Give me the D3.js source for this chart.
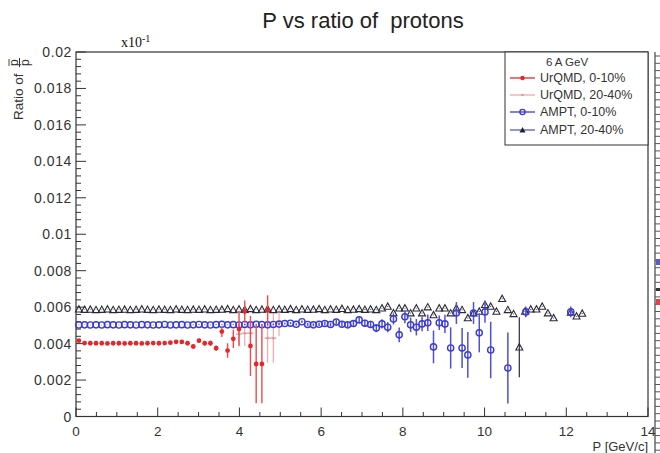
<!DOCTYPE html>
<html><head><meta charset="utf-8">
<script src="https://cdn.jsdelivr.net/npm/d3@7"></script>
<style>body{margin:0;background:#fff}svg{display:block}</style>
</head><body>
<script>
// ---------- DATA ----------
const title = "P vs ratio of  protons";
const xLabel = "P [GeV/c]";
const xTicks = [0,2,4,6,8,10,12,14];
const yTicks = [0,0.002,0.004,0.006,0.008,0.01,0.012,0.014,0.016,0.018,0.02];
const legendTitle = "6 A GeV";
const seriesNames = ["UrQMD, 0-10%","UrQMD, 20-40%","AMPT, 0-10%","AMPT, 20-40%"];

// UrQMD 0-10%
const urqmd010P   = [0.07,0.21,0.35,0.49,0.63,0.77,0.91,1.05,1.19,1.33,1.47,1.61,1.75,1.89,2.03,2.17,2.31,2.45,2.59,2.73,2.87,3.01,3.15,3.29,3.43,3.57,3.71,3.85,3.99,4.13,4.27,4.41,4.55,4.69];
const urqmd010V   = [0.00416,0.00403,0.00402,0.00402,0.00402,0.00401,0.00402,0.00402,0.00401,0.00402,0.00402,0.00401,0.00402,0.00403,0.00402,0.00403,0.00405,0.00410,0.00409,0.00402,0.00384,0.00416,0.00402,0.00402,0.00375,0.00466,0.00362,0.00426,0.00480,0.00576,0.00387,0.00288,0.00288,0.00585];
const urqmd010E   = [0.00003,0.00002,0.00002,0.00002,0.00002,0.00002,0.00002,0.00002,0.00002,0.00002,0.00002,0.00003,0.00003,0.00003,0.00003,0.00004,0.00004,0.00005,0.00006,0.00007,0.00008,0.00010,0.00012,0.00014,0.00015,0.00030,0.00040,0.00050,0.00095,0.00060,0.00165,0.00215,0.00215,0.00080];

// UrQMD 20-40%
const urqmd2040P  = [3.99,4.13,4.27,4.69,4.83,4.97];
const urqmd2040V  = [0.00452,0.00457,0.00457,0.00430,0.00430,0.00512];
const urqmd2040E  = [0.00060,0.00070,0.00070,0.00135,0.00135,0.00070];

// AMPT 0-10%
const ampt010P = [0.07,0.21,0.35,0.49,0.63,0.77,0.91,1.05,1.19,1.33,1.47,1.61,1.75,1.89,2.03,2.17,2.31,2.45,2.59,2.73,2.87,3.01,3.15,3.29,3.43,3.57,3.71,3.85,3.99,4.13,4.27,4.41,4.55,4.69,4.83,4.97,5.11,5.25,5.39,5.53,5.67,5.81,5.95,6.09,6.23,6.37,6.51,6.65,6.79,6.93,7.07,7.21,7.35,7.49,7.63,7.77,7.91,8.05,8.19,8.33,8.47,8.61,8.75,8.89,9.03,9.17,9.31,9.45,9.59,9.73,9.87,10.01,10.15,10.57,11.01,12.11];
const ampt010V = [0.00502,0.00503,0.00502,0.00503,0.00502,0.00504,0.00503,0.00502,0.00504,0.00503,0.00502,0.00504,0.00503,0.00502,0.00503,0.00505,0.00502,0.00503,0.00504,0.00502,0.00503,0.00505,0.00503,0.00502,0.00504,0.00506,0.00503,0.00504,0.00502,0.00505,0.00503,0.00506,0.00504,0.00503,0.00505,0.00507,0.00510,0.00512,0.00506,0.00520,0.00505,0.00503,0.00506,0.00510,0.00505,0.00518,0.00506,0.00503,0.00510,0.00530,0.00512,0.00505,0.00485,0.00508,0.00490,0.00535,0.00448,0.00547,0.00503,0.00490,0.00508,0.00514,0.00382,0.00514,0.00508,0.00376,0.00568,0.00376,0.00338,0.00568,0.00459,0.00574,0.00365,0.00266,0.00574,0.00574];
const ampt010E = [0.00001,0.00001,0.00001,0.00001,0.00001,0.00001,0.00001,0.00001,0.00001,0.00001,0.00001,0.00001,0.00001,0.00001,0.00001,0.00001,0.00001,0.00001,0.00001,0.00001,0.00002,0.00002,0.00002,0.00002,0.00002,0.00002,0.00002,0.00002,0.00003,0.00003,0.00003,0.00003,0.00004,0.00004,0.00004,0.00005,0.00005,0.00006,0.00006,0.00007,0.00008,0.00008,0.00009,0.00010,0.00011,0.00012,0.00013,0.00014,0.00015,0.00017,0.00019,0.00020,0.00022,0.00025,0.00028,0.00030,0.00040,0.00035,0.00040,0.00045,0.00040,0.00045,0.00090,0.00040,0.00050,0.00113,0.00060,0.00110,0.00125,0.00060,0.00107,0.00060,0.00155,0.00195,0.00030,0.00030];

// AMPT 20-40%
const ampt2040P = [0.07,0.21,0.35,0.49,0.63,0.77,0.91,1.05,1.19,1.33,1.47,1.61,1.75,1.89,2.03,2.17,2.31,2.45,2.59,2.73,2.87,3.01,3.15,3.29,3.43,3.57,3.71,3.85,3.99,4.13,4.27,4.41,4.55,4.69,4.83,4.97,5.11,5.25,5.39,5.53,5.67,5.81,5.95,6.09,6.23,6.37,6.51,6.65,6.79,6.93,7.07,7.21,7.35,7.49,7.63,7.77,7.91,8.05,8.19,8.33,8.47,8.61,8.75,8.89,9.03,9.17,9.31,9.45,9.59,9.73,9.87,10.01,10.15,10.29,10.43,10.57,10.71,10.85,10.99,11.13,11.27,11.41,11.55,11.69,12.11,12.25,12.39];
const ampt2040V = [0.00588,0.00586,0.00587,0.00585,0.00586,0.00588,0.00585,0.00586,0.00587,0.00585,0.00586,0.00588,0.00586,0.00585,0.00587,0.00586,0.00585,0.00588,0.00586,0.00585,0.00587,0.00586,0.00588,0.00585,0.00586,0.00587,0.00590,0.00585,0.00588,0.00586,0.00590,0.00585,0.00587,0.00589,0.00585,0.00588,0.00586,0.00590,0.00585,0.00588,0.00586,0.00587,0.00590,0.00585,0.00588,0.00586,0.00591,0.00585,0.00587,0.00590,0.00586,0.00588,0.00585,0.00594,0.00603,0.00568,0.00594,0.00594,0.00567,0.00594,0.00567,0.00600,0.00557,0.00594,0.00594,0.00567,0.00594,0.00585,0.00540,0.00567,0.00576,0.00613,0.00603,0.00576,0.00646,0.00585,0.00563,0.00380,0.00576,0.00588,0.00588,0.00603,0.00567,0.00540,0.00570,0.00550,0.00565];
const ampt2040E = [0.00001,0.00001,0.00001,0.00001,0.00001,0.00001,0.00001,0.00001,0.00001,0.00001,0.00001,0.00001,0.00001,0.00001,0.00001,0.00001,0.00001,0.00001,0.00001,0.00001,0.00001,0.00001,0.00001,0.00001,0.00001,0.00001,0.00001,0.00001,0.00001,0.00001,0.00001,0.00001,0.00001,0.00001,0.00001,0.00001,0.00001,0.00001,0.00001,0.00001,0.00001,0.00001,0.00001,0.00001,0.00001,0.00001,0.00001,0.00001,0.00001,0.00001,0.00002,0.00002,0.00002,0.00002,0.00002,0.00002,0.00002,0.00002,0.00002,0.00002,0.00002,0.00002,0.00002,0.00002,0.00002,0.00002,0.00002,0.00002,0.00002,0.00002,0.00002,0.00002,0.00002,0.00002,0.00002,0.00002,0.00002,0.00165,0.00002,0.00002,0.00002,0.00002,0.00002,0.00002,0.00002,0.00002,0.00002];

// ---------- CHART ----------
const W = 660, H = 453;
const colors = {red:"#e8262a", redBar:"#ee4a4a", pink:"#f4a8a8", blue:"#3a3ad6", blueBar:"#5050d0", tri:"#2a2a3a", triLine:"#5a5ab8"};
const svg = d3.select("body").append("svg").attr("width",W).attr("height",H)
  .style("font-family","'Liberation Sans', Arial, sans-serif");

const x = d3.scaleLinear().domain([0,14]).range([76,648]);
const y = d3.scaleLinear().domain([0,0.02]).range([416.5,52]);

// title
svg.append("text").attr("x",363).attr("y",28).attr("text-anchor","middle")
  .style("white-space","pre")
  .attr("font-size",22).attr("fill","#222").text(title);

// multiplier label
const mult = svg.append("text").attr("x",121).attr("y",47)
  .attr("font-family","'Liberation Serif','Times New Roman',serif").attr("font-size",14).attr("fill","#111");
mult.append("tspan").text("x10");
mult.append("tspan").attr("dy",-5).attr("font-size",10).text("-1");

// y axis label (rotated)
const yl = svg.append("g").attr("transform","translate(23,120) rotate(-90)");
yl.append("text").attr("x",0).attr("y",0).attr("font-size",13.5).attr("fill","#333").text("Ratio of");
const fracX = 54;
yl.append("text").attr("x",fracX).attr("y",-5.5).attr("font-size",12).attr("fill","#333").text("p");
yl.append("line").attr("x1",fracX).attr("x2",fracX+7).attr("y1",-14).attr("y2",-14).attr("stroke","#333").attr("stroke-width",0.9);
yl.append("line").attr("x1",fracX-1).attr("x2",fracX+8).attr("y1",-3.5).attr("y2",-3.5).attr("stroke","#333").attr("stroke-width",1);
yl.append("text").attr("x",fracX).attr("y",6).attr("font-size",12).attr("fill","#333").text("p");

// axes: frame
const frame = svg.append("g");
frame.append("rect").attr("x",76).attr("y",52).attr("width",572).attr("height",364.5)
  .attr("fill","none").attr("stroke","#333").attr("stroke-width",1.2);

// x ticks
const xMinor = d3.range(0,14.01,0.5);
svg.append("g").selectAll("line").data(xMinor).join("line")
  .attr("x1",d=>x(d)).attr("x2",d=>x(d))
  .attr("y1",416.5).attr("y2",d=> (Math.abs(d%2)<1e-6) ? 407.5 : 412)
  .attr("stroke","#333").attr("stroke-width",1);
svg.append("g").selectAll("text").data(xTicks).join("text")
  .attr("x",d=>x(d)).attr("y",436).attr("text-anchor","middle")
  .attr("font-size",13.5).attr("fill","#333").text(d=>d);
svg.append("text").attr("x",648).attr("y",451).attr("text-anchor","end")
  .attr("font-size",13).attr("fill","#333").text(xLabel);

// y ticks
const yMinor = d3.range(0,0.02001,0.0004);
svg.append("g").selectAll("line").data(yMinor).join("line")
  .attr("x1",76).attr("x2",(d,i)=> i%5===0 ? 86 : 81)
  .attr("y1",d=>y(d)).attr("y2",d=>y(d))
  .attr("stroke","#333").attr("stroke-width",1);
svg.append("g").selectAll("text").data(yTicks).join("text")
  .attr("x",72).attr("y",d=>y(d)+5).attr("text-anchor","end")
  .attr("font-size",14).attr("letter-spacing",0.6).attr("fill","#333").text(d=>d3.format("~g")(+d.toFixed(4)));

// data plotting helpers
const plot = svg.append("g");
function errbars(P,V,E,color,w){
  plot.append("g").selectAll("line").data(P).join("line")
    .attr("x1",d=>x(d)).attr("x2",d=>x(d))
    .attr("y1",(d,i)=>y(Math.max(0,V[i]-E[i]))).attr("y2",(d,i)=>y(V[i]+E[i]))
    .attr("stroke",color).attr("stroke-width",w);
}
// UrQMD 20-40% (pink)
errbars(urqmd2040P,urqmd2040V,urqmd2040E,colors.pink,1.2);
plot.append("g").selectAll("path").data(urqmd2040P).join("path")
  .attr("d",(d,i)=>`M${x(d)-3},${y(urqmd2040V[i])}h6`)
  .attr("stroke",colors.pink).attr("stroke-width",1.5);
plot.append("g").selectAll("circle").data(urqmd2040P).join("circle")
  .attr("cx",d=>x(d)).attr("cy",(d,i)=>y(urqmd2040V[i])).attr("r",1.3).attr("fill","#d99");

// AMPT 20-40% triangles
errbars(ampt2040P,ampt2040V,ampt2040E,colors.tri,1.2);
plot.append("g").selectAll("path").data(ampt2040P).join("path")
  .attr("d",(d,i)=>{const cx=x(d), cy=y(ampt2040V[i]); return `M${cx-3.5},${cy+2.7}L${cx},${cy-3.6}L${cx+3.5},${cy+2.7}Z`;})
  .attr("fill","none").attr("stroke",colors.tri).attr("stroke-width",1.1);

// AMPT 0-10% blue circles
errbars(ampt010P,ampt010V,ampt010E,colors.blueBar,1.5);
plot.append("g").selectAll("circle").data(ampt010P).join("circle")
  .attr("cx",d=>x(d)).attr("cy",(d,i)=>y(ampt010V[i])).attr("r",3.1)
  .attr("fill","none").attr("stroke",colors.blue).attr("stroke-width",1.4);

// UrQMD 0-10% red
errbars(urqmd010P,urqmd010V,urqmd010E,colors.redBar,1.4);
plot.append("g").selectAll("circle").data(urqmd010P).join("circle")
  .attr("cx",d=>x(d)).attr("cy",(d,i)=>y(urqmd010V[i])).attr("r",2.4)
  .attr("fill",colors.red);

// legend
const lg = svg.append("g");
lg.append("rect").attr("x",505).attr("y",52).attr("width",143).attr("height",93)
  .attr("fill","#fff").attr("stroke","#333").attr("stroke-width",1);
lg.append("text").attr("x",567).attr("y",66).attr("text-anchor","middle")
  .attr("font-size",11.5).attr("fill","#333").text(legendTitle);
const rows = [82,99,116,134];
const lcol = [colors.red,colors.pink,colors.blue,colors.triLine];
seriesNames.forEach((n,i)=>{
  const yy = rows[i];
  lg.append("line").attr("x1",510).attr("x2",535).attr("y1",yy-4).attr("y2",yy-4)
    .attr("stroke",lcol[i]).attr("stroke-width",1.3);
  if(i===0) lg.append("circle").attr("cx",522.5).attr("cy",yy-4).attr("r",2.2).attr("fill",colors.red);
  if(i===1) lg.append("circle").attr("cx",522.5).attr("cy",yy-4).attr("r",1.2).attr("fill","#d99");
  if(i===2) lg.append("circle").attr("cx",522.5).attr("cy",yy-4).attr("r",2.6).attr("fill","none").attr("stroke",colors.blue).attr("stroke-width",1.4);
  if(i===3) lg.append("path").attr("d",`M${519.5},${yy-1.5}L${522.5},${yy-7}L${525.5},${yy-1.5}Z`).attr("fill","#223");
  lg.append("text").attr("x",540).attr("y",yy).attr("font-size",12.5).attr("fill","#333").text(n);
});

// neighbouring pad edge at far right
const np = svg.append("g");
np.append("line").attr("x1",655).attr("x2",655).attr("y1",52).attr("y2",453).attr("stroke","#444").attr("stroke-width",1.2);
np.selectAll("line.t").data(d3.range(56,453,7.3)).join("line").attr("class","t")
  .attr("x1",655).attr("x2",d=>660).attr("y1",d=>d).attr("y2",d=>d).attr("stroke","#555").attr("stroke-width",1);
np.append("rect").attr("x",656).attr("y",259).attr("width",4).attr("height",6).attr("fill","#5a5ad0");
np.append("rect").attr("x",656).attr("y",288).attr("width",4).attr("height",3).attr("fill","#333");
np.append("rect").attr("x",656).attr("y",299).attr("width",4).attr("height",6).attr("fill","#d44");
</script>
</body></html>
